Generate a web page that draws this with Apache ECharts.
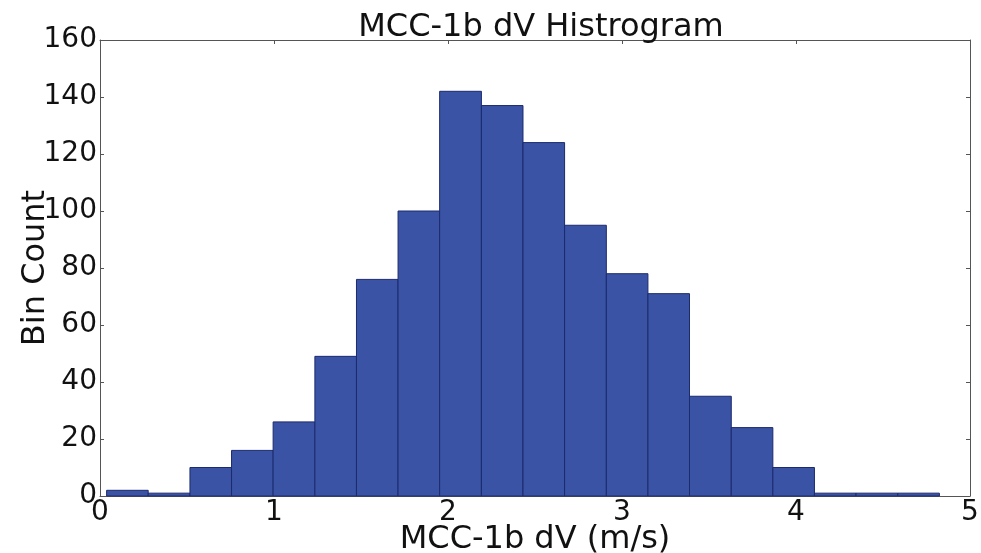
<!DOCTYPE html>
<html>
<head>
<meta charset="utf-8">
<script src="https://cdn.jsdelivr.net/npm/echarts@6/dist/echarts.min.js"></script>
<style>html,body{margin:0;padding:0;background:#fff}#c{width:981px;height:553px}</style>
</head>
<body>
<div id="c"></div>
<script>
var binEdges = [0.038, 0.277, 0.517, 0.756, 0.995, 1.235, 1.474, 1.713, 1.952, 2.192, 2.431, 2.670, 2.910, 3.149, 3.388, 3.628, 3.867, 4.106, 4.345, 4.585, 4.824];
var binCounts = [2, 1, 10, 16, 26, 49, 76, 100, 142, 137, 124, 95, 78, 71, 35, 24, 10, 1, 1, 1];
var xTicks = [0, 1, 2, 3, 4, 5];
var yTicks = [0, 20, 40, 60, 80, 100, 120, 140, 160];

var data = binCounts.map(function (c, i) { return [binEdges[i], binEdges[i + 1], c]; });
var FONT = 'DejaVu Sans';
var chart = echarts.init(document.getElementById('c'));
function axisCommon() {
  return {
    axisLine: { show: true, onZero: false, lineStyle: { color: '#555', width: 1 } },
    axisTick: { show: true, inside: true, length: 4, lineStyle: { color: '#555' } },
    splitLine: { show: false }
  };
}
chart.setOption({
  animation: false,
  backgroundColor: '#fff',
  title: {
    text: 'MCC-1b dV Histrogram', left: 536, top: 7, textAlign: 'center',
    textStyle: { fontFamily: FONT, fontSize: 32, fontWeight: 'normal', color: '#111' }
  },
  grid: { left: 100, right: 11, top: 40, bottom: 57, containLabel: false, outerBoundsMode: 'none' },
  xAxis: [
    Object.assign(axisCommon(), {
      type: 'value', min: xTicks[0], max: xTicks[xTicks.length - 1], interval: 1,
      name: 'MCC-1b dV (m/s)', nameLocation: 'middle', nameGap: 28, nameMoveOverlap: false,
      nameTextStyle: { fontFamily: FONT, fontSize: 32, color: '#111' },
      axisLabel: { fontFamily: FONT, fontSize: 28, color: '#111', margin: 3 }
    }),
    Object.assign(axisCommon(), {
      type: 'value', min: xTicks[0], max: xTicks[xTicks.length - 1], interval: 1, position: 'top',
      axisLabel: { show: false }
    })
  ],
  yAxis: [
    Object.assign(axisCommon(), {
      type: 'value', min: yTicks[0], max: yTicks[yTicks.length - 1], interval: 20,
      name: 'Bin Count', nameLocation: 'middle', nameGap: 48, nameMoveOverlap: false,
      nameTextStyle: { fontFamily: FONT, fontSize: 32, color: '#111' },
      axisLabel: { fontFamily: FONT, fontSize: 28, color: '#111', margin: 3 }
    }),
    Object.assign(axisCommon(), {
      type: 'value', min: yTicks[0], max: yTicks[yTicks.length - 1], interval: 20, position: 'right',
      axisLabel: { show: false }
    })
  ],
  series: [{
    type: 'custom',
    data: data,
    encode: { x: [0, 1], y: 2 },
    renderItem: function (params, api) {
      var p0 = api.coord([api.value(0), api.value(2)]);
      var p1 = api.coord([api.value(1), 0]);
      return {
        type: 'rect',
        shape: { x: p0[0], y: p0[1], width: p1[0] - p0[0], height: p1[1] - p0[1] },
        style: { fill: '#3a53a4', stroke: '#1c2a6e', lineWidth: 1 }
      };
    }
  }]
});
</script>
</body>
</html>
